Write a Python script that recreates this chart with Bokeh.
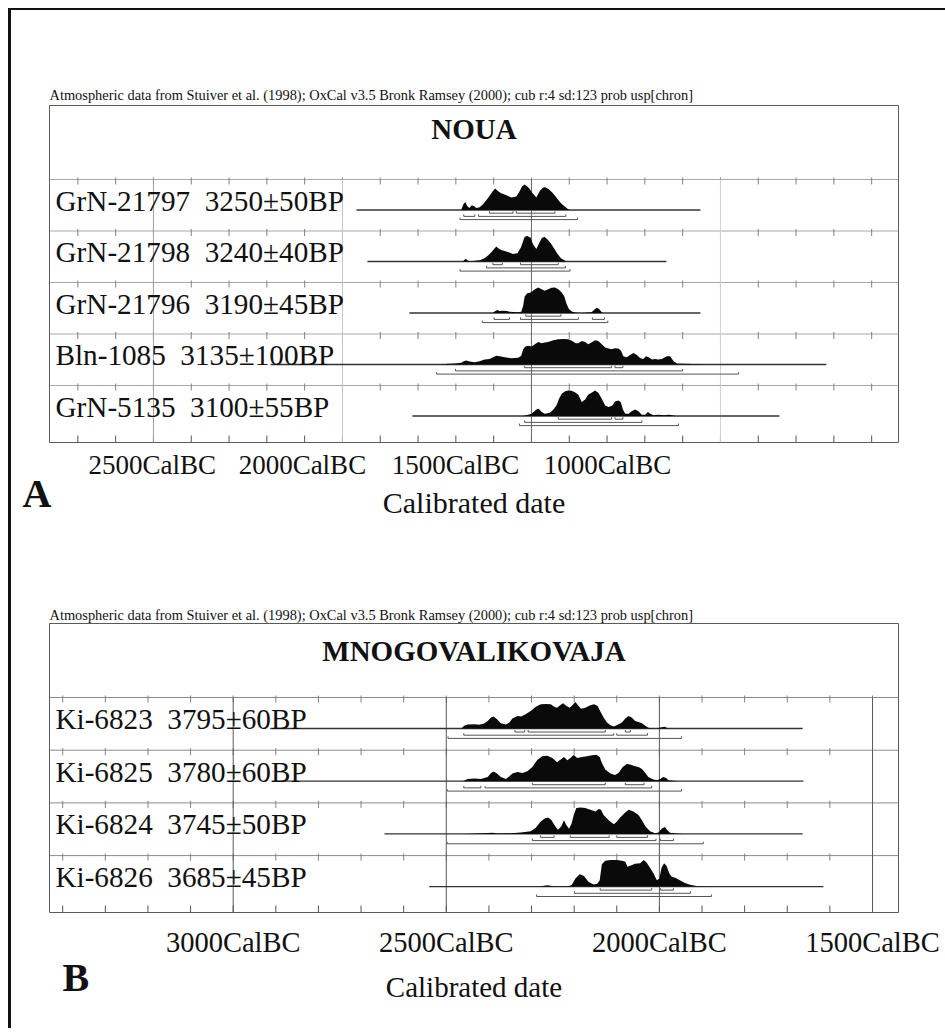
from bokeh.plotting import figure
from bokeh.models import Range1d, FixedTicker, Label
from bokeh.layouts import column
from bokeh.embed import file_html
from bokeh.resources import INLINE
from bokeh.core.properties import value

SERIF = "Liberation Serif"
HEADER = ("Atmospheric data from Stuiver et al. (1998); OxCal v3.5 Bronk Ramsey (2000); "
          "cub r:4 sd:123 prob usp[chron]")
AXIS_TITLE = "Calibrated date"

# ---------------- Panel A : NOUA (years in cal BC) ----------------
title_A = "NOUA"
letter_A = "A"
names_A = ["GrN-21797", "GrN-21798", "GrN-21796", "Bln-1085", "GrN-5135"]
bp_A = ["3250±50BP", "3240±40BP", "3190±45BP", "3135±100BP", "3100±55BP"]
line_from_A = [1963, 1934, 1823, 2190, 1815]
line_to_A = [1053, 1143, 1053, 720, 844]

years_A1 = [1686, 1680, 1675, 1670, 1664, 1658, 1652, 1646, 1637, 1628, 1619, 1611, 1602, 1596, 1589,
            1580, 1566, 1553, 1540, 1531, 1525, 1518, 1511, 1504, 1497, 1487, 1478, 1469, 1463, 1454,
            1445, 1436, 1427, 1419, 1410, 1403, 1398]
prob_A1 = [0, 17, 24, 12, 6, 14, 12, 6, 8, 17, 30, 42, 57, 64, 57, 50, 44, 37, 40, 57, 70, 76, 70, 62,
           50, 37, 57, 67, 68, 62, 52, 40, 27, 17, 9, 2, 0]
years_A2 = [1681, 1677, 1673, 1668, 1659, 1650, 1637, 1624, 1615, 1606, 1599, 1593, 1587, 1580, 1571,
            1560, 1549, 1537, 1528, 1522, 1518, 1511, 1502, 1496, 1487, 1481, 1473, 1466, 1458, 1449,
            1440, 1431, 1422, 1413, 1407]
prob_A2 = [0, 6, 8, 2, 0, 2, 4, 10, 18, 28, 38, 46, 40, 35, 32, 28, 23, 25, 43, 63, 76, 78, 73, 53, 38,
           53, 71, 76, 68, 56, 40, 23, 10, 4, 0]
years_A3 = [1602, 1596, 1590, 1584, 1575, 1566, 1558, 1535, 1527, 1522, 1518, 1511, 1502, 1491, 1482,
            1473, 1465, 1456, 1447, 1438, 1429, 1420, 1413, 1407, 1401, 1392, 1381, 1367, 1341, 1334,
            1327, 1321, 1314, 1310]
prob_A3 = [0, 6, 9, 6, 7, 6, 4, 2, 4, 22, 50, 60, 62, 72, 77, 72, 67, 72, 76, 77, 72, 62, 50, 27, 12, 4,
           1, 0, 2, 10, 16, 12, 2, 0]
years_A4 = [1739, 1721, 1704, 1686, 1679, 1673, 1664, 1650, 1637, 1624, 1611, 1602, 1593, 1584, 1571,
            1553, 1535, 1527, 1522, 1516, 1509, 1500, 1491, 1482, 1473, 1465, 1456, 1442, 1429, 1416,
            1403, 1392, 1383, 1376, 1367, 1358, 1350, 1341, 1332, 1323, 1314, 1305, 1296, 1288, 1279,
            1270, 1263, 1257, 1248, 1239, 1230, 1221, 1212, 1204, 1197, 1190, 1181, 1173, 1164, 1155,
            1142, 1133, 1124, 1115, 1093, 1040]
prob_A4 = [0, 2, 3, 5, 10, 12, 9, 7, 10, 15, 17, 22, 27, 25, 22, 19, 21, 27, 47, 55, 57, 55, 62, 69, 65,
           67, 69, 74, 77, 78, 77, 72, 65, 65, 72, 69, 62, 67, 74, 72, 62, 52, 49, 47, 50, 49, 42, 25,
           22, 29, 35, 29, 19, 17, 25, 22, 15, 17, 15, 17, 25, 25, 10, 3, 2, 0]
years_A5 = [1522, 1513, 1500, 1487, 1481, 1473, 1465, 1451, 1442, 1434, 1427, 1420, 1412, 1403, 1394,
            1385, 1376, 1367, 1358, 1350, 1341, 1332, 1323, 1314, 1305, 1296, 1286, 1279, 1270, 1264,
            1258, 1252, 1243, 1235, 1226, 1217, 1208, 1199, 1192, 1186, 1177, 1164, 1150, 1137, 1128,
            1119]
prob_A5 = [0, 2, 7, 20, 22, 12, 7, 10, 20, 32, 52, 67, 74, 77, 76, 72, 64, 42, 50, 64, 70, 77, 70, 52,
           32, 27, 32, 44, 47, 42, 20, 7, 7, 14, 20, 14, 4, 4, 12, 7, 2, 4, 2, 4, 2, 0]

# calibrated ranges, three nested levels per sample: (from BC, to BC)
ranges_A1 = [[(1611, 1549), (1540, 1438)], [(1679, 1650), (1640, 1409)], [(1689, 1378)]]
ranges_A2 = [[(1602, 1577), (1529, 1429)], [(1619, 1410)], [(1689, 1398)]]
ranges_A3 = [[(1515, 1422)], [(1599, 1558), (1529, 1376), (1339, 1307)], [(1630, 1298)]]
ranges_A4 = [[(1518, 1288), (1279, 1258)], [(1701, 1100)], [(1751, 952)]]
ranges_A5 = [[(1429, 1288), (1279, 1258)], [(1518, 1208)], [(1532, 1111)]]

tick_pos_A = [2503, 2106, 1701, 1299]
tick_lab_A = ["2500CalBC", "2000CalBC", "1500CalBC", "1000CalBC"]
grid_A = [2500, 2000, 1500, 1000]

# ---------------- Panel B : MNOGOVALIKOVAJA ----------------
title_B = "MNOGOVALIKOVAJA"
letter_B = "B"
names_B = ["Ki-6823", "Ki-6825", "Ki-6824", "Ki-6826"]
bp_B = ["3795±60BP", "3780±60BP", "3745±50BP", "3685±45BP"]
line_from_B = [2913, 2910, 2645, 2540]
line_to_B = [1664, 1662, 1664, 1615]

years_B1 = [2465, 2458, 2450, 2434, 2423, 2411, 2403, 2395, 2389, 2381, 2372, 2360, 2352, 2345, 2333,
            2324, 2314, 2302, 2290, 2278, 2266, 2255, 2247, 2240, 2233, 2226, 2218, 2210, 2202, 2197,
            2191, 2184, 2174, 2162, 2153, 2145, 2139, 2131, 2123, 2115, 2107, 2100, 2088, 2080, 2072,
            2065, 2057, 2049, 2041, 2033, 2026, 2014, 2006, 1995, 1987, 1981, 1975]
prob_B1 = [0, 8, 12, 13, 11, 15, 23, 33, 36, 28, 16, 12, 18, 30, 38, 36, 43, 53, 66, 73, 74, 73, 66, 63,
           70, 76, 68, 63, 73, 80, 70, 60, 63, 70, 73, 68, 53, 33, 18, 10, 6, 10, 18, 30, 38, 33, 23,
           20, 16, 8, 2, 0, 0, 4, 5, 1, 0]
years_B2 = [2461, 2450, 2434, 2419, 2403, 2395, 2389, 2381, 2372, 2360, 2352, 2345, 2333, 2321, 2310,
            2298, 2286, 2275, 2263, 2251, 2240, 2230, 2224, 2216, 2209, 2201, 2193, 2181, 2170, 2158,
            2148, 2140, 2135, 2127, 2115, 2104, 2096, 2086, 2076, 2067, 2057, 2049, 2041, 2033, 2026,
            2014, 2005, 1998, 1991, 1984, 1979, 1967, 1952]
prob_B2 = [0, 7, 8, 7, 13, 25, 29, 23, 13, 7, 15, 23, 28, 25, 30, 43, 65, 75, 77, 70, 57, 67, 73, 63,
           70, 79, 70, 73, 75, 78, 80, 73, 55, 35, 23, 19, 25, 43, 53, 50, 45, 43, 37, 25, 13, 5, 3, 7,
           13, 10, 3, 1, 0]
years_B3 = [2458, 2426, 2391, 2380, 2349, 2325, 2302, 2290, 2279, 2269, 2261, 2253, 2246, 2238, 2230,
            2224, 2218, 2212, 2206, 2201, 2195, 2185, 2174, 2162, 2150, 2142, 2137, 2131, 2119, 2107,
            2100, 2092, 2082, 2072, 2061, 2049, 2041, 2033, 2022, 2010, 2002, 1995, 1987, 1981, 1975,
            1963, 1944]
prob_B3 = [0, 1, 3, 1, 2, 4, 8, 18, 35, 45, 48, 40, 25, 12, 22, 40, 25, 15, 30, 55, 75, 77, 75, 70, 65,
           72, 70, 55, 40, 28, 35, 48, 60, 70, 65, 55, 40, 22, 8, 2, 4, 15, 20, 10, 3, 1, 0]
years_B4 = [2286, 2275, 2263, 2251, 2236, 2224, 2212, 2205, 2197, 2187, 2177, 2166, 2154, 2146, 2140,
            2135, 2127, 2115, 2100, 2088, 2080, 2075, 2067, 2057, 2045, 2037, 2030, 2022, 2014, 2006,
            2000, 1995, 1989, 1983, 1977, 1971, 1963, 1952, 1940, 1928, 1913, 1897, 1882]
prob_B4 = [0, 2, 4, 2, 1, 2, 1, 6, 23, 35, 30, 13, 6, 8, 18, 63, 73, 75, 75, 73, 70, 56, 60, 65, 66, 75,
           68, 53, 38, 18, 23, 53, 66, 58, 38, 28, 25, 18, 10, 5, 2, 1, 0]

ranges_B1 = [[(2339, 2316), (2308, 2127), (2080, 2068)], [(2459, 2107), (2100, 2028)], [(2496, 1948)]]
ranges_B2 = [[(2298, 2127), (2080, 2036)], [(2459, 2419), (2409, 2018)], [(2498, 1948)]]
ranges_B3 = [[(2279, 2247), (2209, 2118), (2100, 2028)], [(2298, 2008), (1998, 1967)], [(2498, 1897)]]
ranges_B4 = [[(2139, 2018), (1998, 1967)], [(2199, 1927)], [(2288, 1878)]]

tick_pos_B = [3000, 2500, 2000, 1500]
tick_lab_B = ["3000CalBC", "2500CalBC", "2000CalBC", "1500CalBC"]
grid_B = [3000, 2500, 2000, 1500]

# ---------------- layout / style settings ----------------
geom_A = dict(w=934, h=550, x0=2775, x1=529, frame_h=337, bl=38, br=47, bt=95, bb=118,
              title_standoff=6, sep0=74, step=51.5, base_off=30.5, peak=25.5,
              levels=[3.2, 6.4, 9.6], title_y=23.5, letter_dx=27, letter_y=387.5,
              tick_font="27px", label_font="30px",
              tick_standoff=7, label_standoff=3, sep_color="#a8a8a8",
              grid_colors=["#a0a0a0", "#c4c4c4", "#6a6a6a", "#d0d0d0"])
geom_B = dict(w=934, h=468, x0=3431, x1=1439, frame_h=289, bl=38, br=42, bt=63, bb=116,
              title_standoff=2, sep0=74, step=52.7, base_off=31, peak=26.5,
              levels=[3.5, 6.7, 9.9], title_y=27, letter_dx=-13, letter_y=353.5,
              tick_font="28.5px", label_font="29px",
              tick_standoff=14, label_standoff=10, sep_color="#8c8c8c",
              grid_colors=["#5a5a5a", "#5a5a5a", "#5a5a5a", "#5a5a5a"])


def build(title, letter, names, bps, lfrom, lto, years, probs, ranges, tpos, tlab, grid, g):
    H = g["frame_h"]
    x0, x1 = g["x0"], g["x1"]
    frame_w = g["w"] - g["bl"] - g["br"]
    scale = frame_w / (x0 - x1)
    p = figure(width=g["w"], height=g["h"], x_range=Range1d(x0, x1), y_range=Range1d(H, 0),
               output_backend="svg", toolbar_location=None, y_axis_location=None,
               min_border_left=g["bl"], min_border_right=g["br"],
               min_border_top=g["bt"], min_border_bottom=g["bb"])
    p.xgrid.visible = False
    p.ygrid.visible = False
    p.outline_line_color = "#5a5a5a"
    p.outline_line_width = 1
    p.background_fill_color = "white"
    p.border_fill_color = "white"

    p.title.text = HEADER
    p.title.text_font = SERIF
    p.title.text_font_size = "14.4px"
    p.title.text_font_style = "normal"
    p.title.text_color = "#111111"
    p.title.align = "left"
    p.title.standoff = g["title_standoff"]

    n = len(names)
    seps = [g["sep0"] + i * g["step"] for i in range(n)]
    bases = [s + g["base_off"] for s in seps]
    hundreds = list(range(int(x0 // 100) * 100, int(x1) - 1, -100))

    # row separators with century ticks
    p.segment(x0=[x0] * n, y0=seps, x1=[x1] * n, y1=seps, line_color=g["sep_color"], line_width=1)
    tx = [yr for s in seps for yr in hundreds]
    ty0 = [s - 2 for s in seps for yr in hundreds]
    ty1 = [s + 5 for s in seps for yr in hundreds]
    p.segment(x0=tx, y0=ty0, x1=tx, y1=ty1, line_color="#808080", line_width=1)
    # inward ticks on the bottom edge
    p.segment(x0=hundreds, y0=[H] * len(hundreds), x1=hundreds, y1=[H - 7] * len(hundreds),
              line_color="#555555", line_width=1)
    # 500-year vertical lines
    p.segment(x0=grid, y0=[seps[0]] * len(grid), x1=grid, y1=[H] * len(grid),
              line_color=g["grid_colors"], line_width=1)
    # base lines
    p.segment(x0=lfrom, y0=bases, x1=lto, y1=bases, line_color="#333333", line_width=1.3)
    # probability distributions
    for yrs, pr, b in zip(years, probs, bases):
        m = max(pr)
        p.varea(x=yrs, y1=[b] * len(yrs), y2=[b - v / m * g["peak"] for v in pr],
                fill_color="#0a0a0a")
    # range brackets
    bx0, bx1, by = [], [], []
    for rng, b in zip(ranges, bases):
        for lev, segs in zip(g["levels"], rng):
            for a, c in segs:
                bx0.append(a)
                bx1.append(c)
                by.append(b + lev)
    p.segment(x0=bx0, y0=by, x1=bx1, y1=by, line_color="#555555", line_width=1)
    ex = bx0 + bx1
    ey = by + by
    p.segment(x0=ex, y0=ey, x1=ex, y1=[v - 2 for v in ey], line_color="#555555", line_width=1)

    # sample labels (text sits on the base line)
    xl = x0 - 6 / scale
    p.text(x=[xl] * n, y=[b - 9.5 for b in bases],
           text=[f"{nm} \u00a0{bp}" for nm, bp in zip(names, bps)],
           text_font=value(SERIF), text_font_size=value("29.2px"), text_color="#111111",
           text_baseline="middle", text_align="left")
    # panel title
    p.text(x=[(x0 + x1) / 2], y=[g["title_y"]], text=[title], text_font=value(SERIF),
           text_font_size=value("29px"), text_font_style="bold", text_align="center",
           text_baseline="middle", text_color="#111111")

    ax = p.xaxis[0]
    ax.ticker = FixedTicker(ticks=tpos)
    ax.major_label_overrides = dict(zip(tpos, tlab))
    ax.axis_line_color = None
    ax.major_tick_line_color = None
    ax.minor_tick_line_color = None
    ax.major_tick_in = 0
    ax.major_tick_out = 0
    ax.major_label_text_font = SERIF
    ax.major_label_text_font_size = g["tick_font"]
    ax.major_label_text_color = "#111111"
    ax.major_label_standoff = g["tick_standoff"]
    ax.axis_label = AXIS_TITLE
    ax.axis_label_text_font = SERIF
    ax.axis_label_text_font_size = g["label_font"]
    ax.axis_label_text_font_style = "normal"
    ax.axis_label_text_color = "#111111"
    ax.axis_label_standoff = g["label_standoff"]

    # panel letter, held in the (empty) left side panel so it is not clipped by the frame
    p.add_layout(Label(x=x0 + g["letter_dx"] / scale, y=g["letter_y"], text=letter,
                       text_font=SERIF, text_font_size="40px", text_font_style="bold",
                       text_color="#111111", text_baseline="middle", text_align="left"),
                 "left")
    return p


pA = build(title_A, letter_A, names_A, bp_A, line_from_A, line_to_A,
           [years_A1, years_A2, years_A3, years_A4, years_A5],
           [prob_A1, prob_A2, prob_A3, prob_A4, prob_A5],
           [ranges_A1, ranges_A2, ranges_A3, ranges_A4, ranges_A5],
           tick_pos_A, tick_lab_A, grid_A, geom_A)
pB = build(title_B, letter_B, names_B, bp_B, line_from_B, line_to_B,
           [years_B1, years_B2, years_B3, years_B4],
           [prob_B1, prob_B2, prob_B3, prob_B4],
           [ranges_B1, ranges_B2, ranges_B3, ranges_B4],
           tick_pos_B, tick_lab_B, grid_B, geom_B)

layout = column(pA, pB, styles={"margin-left": "8px", "margin-top": "8px",
                                "border-left": "3px solid #111111",
                                "border-top": "2px solid #111111"})

open("out.html", "w").write(file_html(layout, INLINE))
